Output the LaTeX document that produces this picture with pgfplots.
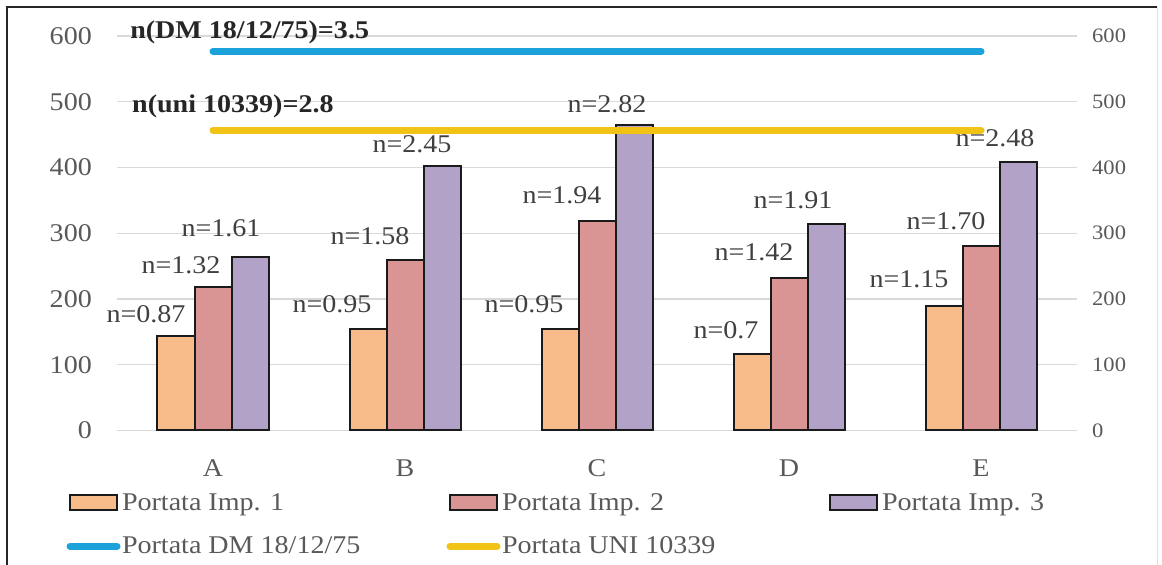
\documentclass[border=0pt]{standalone}
\usepackage{pgfplots}
\pgfplotsset{compat=1.18}
\usepackage{pgfplotstable}
\usepackage{fontspec}
\setmainfont{Liberation Serif}[FakeStretch=1.1]
\definecolor{cOr}{HTML}{F8BC8A}
\definecolor{cRd}{HTML}{D99594}
\definecolor{cPu}{HTML}{B2A2C7}
\definecolor{cBl}{HTML}{1CA2DA}
\definecolor{cYe}{HTML}{F0C314}
\definecolor{cTk}{HTML}{595959}
\definecolor{cLb}{HTML}{404040}
\definecolor{cBd}{HTML}{262626}
\definecolor{cGr}{HTML}{D9D9D9}
\definecolor{cOl}{HTML}{1A1A1A}
\newcommand\fA{\fontsize{25.5bp}{30bp}\selectfont}
\newcommand\fR{\fontsize{20.5bp}{24bp}\selectfont}

% dx = horizontal offset of the label centre from the category centre (bp), gap = label baseline above bar top (bp)
\pgfplotstableread{
x y label dx gap
0 143 n=0.87 -67 14
1 154 n=0.95 -73 17
2 155 n=0.95 -73 16
3 116 n=0.7 -63 16
4 190 n=1.15 -72 18
}\tA
\pgfplotstableread{
x y label dx gap
0 218 n=1.32 -32 14
1 260 n=1.58 -35 15
2 318 n=1.94 -35 18
3 232 n=1.42 -35 17
4 280 n=1.70 -35 17
}\tB
\pgfplotstableread{
x y label dx gap
0 264 n=1.61 8 20
1 403 n=2.45 7 13
2 465 n=2.82 10 12
3 314 n=1.91 4 16
4 409 n=2.48 14 15
}\tC

\pgfplotsset{
  barlab/.style={
    nodes near coords,
    point meta=explicit symbolic,
    visualization depends on={\thisrow{dx}\as\dx},
    visualization depends on={\thisrow{gap}\as\gp},
    every node near coord/.append style={anchor=base, xshift=\dx*1bp, yshift=\gp*1bp,
      font=\fA, text=cLb, inner sep=0pt},
  },
  barimg/.style={legend image code/.code={\path[draw=none,fill=none] (-3.5bp,0bp) -- (50.5bp,0bp); \fill[#1] (0bp,-7.5bp) rectangle (47bp,7.5bp); \draw[cOl, line width=1.8bp] (0bp,-7.5bp) rectangle (47bp,7.5bp);}},
  lineimg/.style={legend image code/.code={\draw[#1, line width=7bp, line cap=round] (0bp,0bp) -- (47bp,0bp);}},
}

\begin{document}
\begin{tikzpicture}
\useasboundingbox (0,0) rectangle (1162bp,565bp);
\draw[line width=1.6bp, black!85] (7bp,-10bp) -- (7bp,558bp) -- (1157bp,558bp);
\draw[line width=1bp, black!12] (1157bp,558bp) -- (1157bp,-10bp);

\begin{axis}[
  at={(117bp,134.5bp)}, anchor=south west,
  scale only axis, width=960bp, height=394.5bp,
  xmin=-0.5, xmax=4.5, ymin=0, ymax=600,
  clip=false,
  xtick={0,1,2,3,4}, xticklabels={A,B,C,D,E},
  ytick={0,100,...,600},
  axis line style={draw=none}, tick style={draw=none},
  ymajorgrids, grid style={cGr, line width=1.3bp},
  ticklabel style={font=\fA, text=cTk, inner sep=0pt},
  /pgf/number format/assume math mode=true,
  xticklabel style={anchor=base, yshift=-45.5bp},
  yticklabel style={anchor=east, xshift=-25bp},
  legend columns=3,
  legend cell align=left,
  legend style={at={(axis description cs:-0.0526,-0.16)}, anchor=north west,
    draw=none, fill=none, inner sep=0pt, outer sep=0pt, row sep=25bp,
    nodes={inner sep=0pt, text=cTk, font=\fA},
    /tikz/every odd column/.append style={column sep=1.5bp}},
]
\addplot[ybar, bar width=37bp, bar shift=-37bp, fill=cOr, draw=cOl, line width=2bp, barlab, forget plot]
  table[x=x, y=y, meta=label] {\tA};
\addplot[ybar, bar width=37bp, bar shift=0bp, fill=cRd, draw=cOl, line width=2bp, barlab, forget plot]
  table[x=x, y=y, meta=label] {\tB};
\addplot[ybar, bar width=37bp, bar shift=37bp, fill=cPu, draw=cOl, line width=2bp, barlab, forget plot]
  table[x=x, y=y, meta=label] {\tC};
\addplot[sharp plot, cBl, line width=7bp, line cap=round, mark=none, forget plot]
  coordinates {(0,577) (4,577)};
\addplot[sharp plot, cYe, line width=7bp, line cap=round, mark=none, forget plot]
  coordinates {(0,457) (4,457)};
\addlegendimage{barimg=cOr}
\addlegendentry{\makebox[324.5bp][l]{\vphantom{Ip}Portata Imp. 1}}
\addlegendimage{barimg=cRd}
\addlegendentry{\makebox[324.5bp][l]{\vphantom{Ip}Portata Imp. 2}}
\addlegendimage{barimg=cPu}
\addlegendentry{\makebox[324.5bp][l]{\vphantom{Ip}Portata Imp. 3}}
\addlegendimage{lineimg=cBl}
\addlegendentry{\makebox[324.5bp][l]{\vphantom{Ip}Portata DM 18/12/75}}
\addlegendimage{lineimg=cYe}
\addlegendentry{\makebox[324.5bp][l]{\vphantom{Ip}Portata UNI 10339}}
\node[anchor=base west, font=\fA\bfseries, text=cBd, inner sep=0pt] at (axis cs:-0.432,596) {n(DM 18/12/75)=3.5};
\node[anchor=base west, font=\fA\bfseries, text=cBd, inner sep=0pt] at (axis cs:-0.422,483) {n(uni 10339)=2.8};
\end{axis}

\begin{axis}[
  at={(117bp,134.5bp)}, anchor=south west,
  scale only axis, width=960bp, height=394.5bp,
  xmin=-0.5, xmax=4.5, ymin=0, ymax=600,
  axis y line*=right, axis x line=none,
  ytick={0,100,...,600},
  axis line style={draw=none}, tick style={draw=none},
  /pgf/number format/assume math mode=true,
  yticklabel style={font=\fR, text=cTk, anchor=west, xshift=15bp, inner sep=0pt},
]
\addplot[draw=none, mark=none] coordinates {(0,0) (4,600)};
\end{axis}
\end{tikzpicture}
\end{document}
